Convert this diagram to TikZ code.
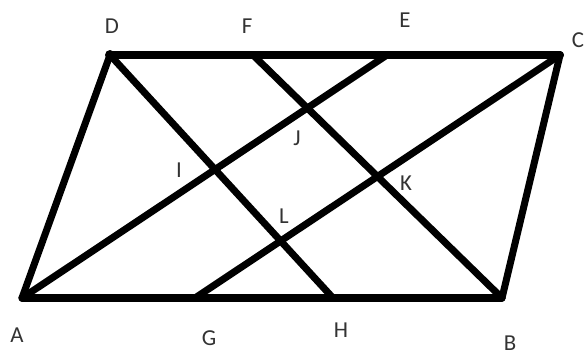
\documentclass[tikz,border=0pt]{standalone}
\usepackage{fontspec}
\setmainfont{Carlito}
\tikzset{
  lbl/.style={font=\fontsize{13}{15}\selectfont, text=black!80, inner sep=0pt},
  seg/.style={line width=4pt, line cap=round, line join=round}
}
\begin{document}
\begin{tikzpicture}[x=0.02cm,y=-0.02cm]
      \useasboundingbox (0,0) rectangle (587,356);
      \draw
        (22,298) coordinate (A)
        (502,298) coordinate (B)
        (560,55) coordinate (C)
        (110,55) coordinate (D)
        (387,55) coordinate (E)
        (253,55) coordinate (F)
        (195,298) coordinate (G)
        (333,298) coordinate (H);
      \node[lbl] (lA) at (17,335) {A};
      \node[lbl] (lB) at (510,343) {B};
      \node[lbl] (lC) at (578,40) {C};
      \node[lbl] (lD) at (112,26) {D};
      \node[lbl] (lE) at (405,20) {E};
      \node[lbl] (lF) at (247,26) {F};
      \node[lbl] (lG) at (209,338) {G};
      \node[lbl] (lH) at (341,330) {H};
      \node[lbl] (lI) at (179,170) {I};
      \node[lbl] (lJ) at (297,138) {J};
      \node[lbl] (lK) at (406,183) {K};
      \node[lbl] (lL) at (284,216) {L};
      \begin{scope}[seg]
        \draw (A) to (B);
        \draw (B) to (C);
        \draw (C) to (D);
        \draw (D) to (A);
        \draw (A) to (E);
        \draw (G) to (C);
        \draw (D) to (H);
        \draw (F) to (B);
      \end{scope}
      \fill (D) circle (5);
      \fill (C) circle (4);
    \end{tikzpicture}
\end{document}
